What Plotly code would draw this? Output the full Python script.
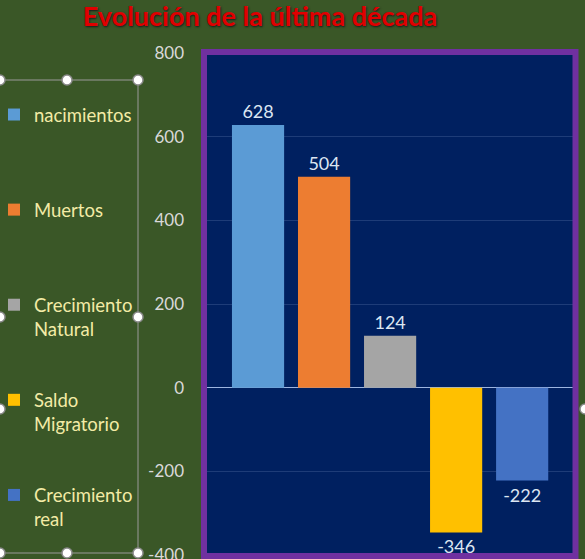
import plotly.graph_objects as go

W, H = 585, 559

series_names = ["nacimientos", "Muertos", "Crecimiento<br>Natural",
                "Saldo<br>Migratorio", "Crecimiento<br>real"]
series_values = [628, 504, 124, -346, -222]
series_colors = ["#5B9BD5", "#ED7D31", "#A5A5A5", "#FFC000", "#4472C4"]
y_ticks = [-400, -200, 0, 200, 400, 600, 800]


def px(x):
    return x / W


def py(y):
    return 1 - y / H


fig = go.Figure()
for i, (name, val, col) in enumerate(zip(series_names, series_values, series_colors)):
    # one-line names get a blank second line so every legend entry has the same height
    label = name if "<br>" in name else name + "<br>\u00a0"
    fig.add_trace(go.Bar(
        x=[i], y=[val], name=label, legendgroup=str(i),
        marker=dict(color=col, line=dict(width=0)),
        width=0.79,
        text=[str(val)], texttemplate="%{text}", textposition="outside",
        textfont=dict(family="Lato", size=18, color="#DCE6F2"),
    ))

# legend selection frame (drawn like the editor handles)
shapes = [
    dict(type="line", xref="paper", yref="paper", x0=px(0), x1=px(138), y0=py(80), y1=py(80),
         line=dict(color="#9A9A9A", width=1)),
    dict(type="line", xref="paper", yref="paper", x0=px(0), x1=px(138), y0=py(553), y1=py(553),
         line=dict(color="#9A9A9A", width=1)),
    dict(type="line", xref="paper", yref="paper", x0=px(138), x1=px(138), y0=py(80), y1=py(553),
         line=dict(color="#9A9A9A", width=1)),
    dict(type="rect", xref="paper", yref="paper", x0=px(204), x1=px(575.5), y0=py(52), y1=py(556),
         line=dict(color="#7030A0", width=6), layer="above"),
]
for (cx, cy) in [(0, 80), (67, 80), (138, 80), (138, 317), (138, 553), (67, 553), (0, 553),
                 (0, 317), (0, 409), (585, 409)]:
    shapes.append(dict(type="circle", xref="paper", yref="paper",
                       x0=px(cx - 5), x1=px(cx + 5), y0=py(cy - 5), y1=py(cy + 5),
                       fillcolor="white", line=dict(color="#8A8A8A", width=1.5)))

fig.update_layout(
    width=W, height=H,
    margin=dict(l=0, r=0, t=0, b=0, autoexpand=False),
    paper_bgcolor="#3A5727",
    plot_bgcolor="#002060",
    barmode="overlay",
    title=dict(text="<b>Evolución de la última década</b>",
               x=px(260), xanchor="center", y=py(17), yanchor="middle",
               font=dict(family="Lato", size=27, color="#E00000",
                         shadow="1px 1px 2px #1a1a1a")),
    xaxis=dict(domain=[px(207), px(573)], range=[-0.773, 4.77],
               showticklabels=False, showgrid=False, zeroline=False, fixedrange=True),
    yaxis=dict(domain=[py(555), py(53)], range=[-400, 800],
               tickvals=y_ticks, ticktext=[str(v) for v in y_ticks],
               showgrid=True, gridcolor="#1E3C78", gridwidth=1,
               zeroline=True, zerolinecolor="#9DB5E0", zerolinewidth=1.2,
               ticklabelstandoff=22, ticklabeloverflow="allow",
               tickfont=dict(family="Lato", size=17, color="#D9D9D9")),
    legend=dict(xref="paper", yref="paper", x=px(-6), y=py(96),
                xanchor="left", yanchor="top", bgcolor="rgba(0,0,0,0)",
                font=dict(family="Lato", size=18.5, color="#F3EBA6"),
                tracegroupgap=44, valign="top", itemwidth=30, traceorder="grouped"),
    shapes=shapes,
    showlegend=True,
)

fig.write_html("out.html", config={"displayModeBar": False},
               post_script="document.body.style.margin='0';")
